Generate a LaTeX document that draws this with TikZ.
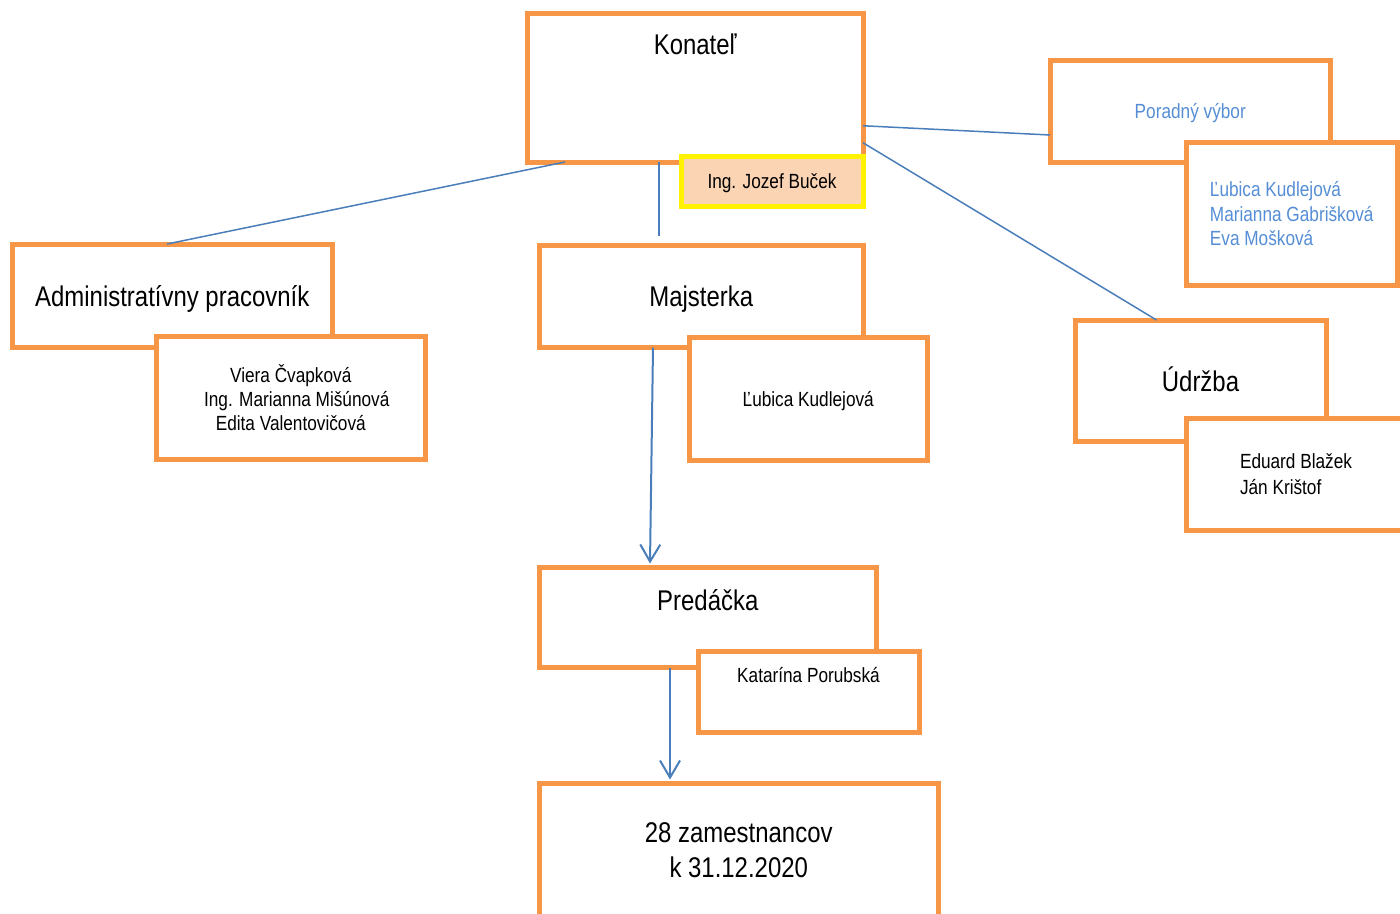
\documentclass[tikz,border=0pt]{standalone}
\usepackage{fontspec}
\setmainfont{Liberation Sans}[FakeStretch=0.84]
\usetikzlibrary{arrows.meta}
\definecolor{boxorange}{HTML}{F79646}
\definecolor{lineblue}{HTML}{4A7EBB}
\definecolor{textblue}{HTML}{558ED5}
\definecolor{namefill}{HTML}{FBD4B4}
\newcommand\unitfont{\fontsize{28.5pt}{35pt}\selectfont}
\newcommand\namefont{\fontsize{20.5pt}{24.3pt}\selectfont}
\tikzset{
    frame/.style={
        draw=boxorange,
        line width=5pt,
        fill=white,
        inner sep=0pt,
        outer sep=0pt,
    },
    unit/.style={frame, font=\unitfont, text height=20.5pt, text depth=0pt},
    person/.style={frame, font=\namefont, text height=14.7pt, text depth=0pt},
    names/.style={frame, font=\namefont, align=center},
    link/.style={draw=lineblue, line width=1.5pt},
    flow/.style={link, line width=2pt, -{Straight Barb[length=17pt, width=20pt, line width=2pt]}},
}

\begin{document}
\begin{tikzpicture}[x=1pt, y=-1pt]
   \useasboundingbox (0,0) rectangle (1400,913);
   \clip (0,0) rectangle (1400,913);
   % top
   \node[frame, minimum width=335.5pt, minimum height=148.5pt] (konatel) at (695.25,87.75) {};
   \node[font=\unitfont, anchor=base] (konatel-t) at ([yshift=-40.5pt]konatel.north) {Konateľ};
   \node[person, draw=yellow, fill=namefill, minimum width=182pt, minimum height=50.5pt] (bucek) at (772,181.25) {Ing. Jozef Buček};
   % advisory board
   \node[person, text=textblue, minimum width=280.5pt, minimum height=102.5pt] (rada) at (1190.25,111.25) {Poradný výbor};
   \node[names, align=left, text=textblue, minimum width=211.5pt, minimum height=142.5pt] (rada-c) at (1291.75,213.75) {Ľubica Kudlejová\\Marianna Gabrišková\\Eva Mošková};
   % second row
   \node[unit, minimum width=319.5pt, minimum height=103.5pt] (admin) at (172.25,295.75) {Administratívny pracovník};
   \node[names, minimum width=268.5pt, minimum height=122.5pt] (admin-c) at (290.75,397.75) {Viera Čvapková\\\hspace*{12pt}Ing. Marianna Mišúnová\\Edita Valentovičová};
   \node[unit, minimum width=324.5pt, minimum height=102.5pt] (majsterka) at (701.25,296.25) {Majsterka};
   \node[person, minimum width=238.5pt, minimum height=122.5pt] (majsterka-c) at (808.25,398.75) {Ľubica Kudlejová};
   \node[unit, minimum width=251pt, minimum height=121.5pt] (udrzba) at (1200.5,380.75) {Údržba};
   \node[names, align=left, minimum width=220pt, minimum height=112pt] (udrzba-c) at (1296,474) {Eduard Blažek\\[1.7pt]Ján Krištof};
   % lower rows
   \node[frame, minimum width=337.5pt, minimum height=100pt] (predacka) at (707.75,617.5) {};
   \node[font=\unitfont, anchor=base] (predacka-t) at ([yshift=-42.5pt]predacka.north) {Predáčka};
   \node[frame, minimum width=221pt, minimum height=81pt] (predacka-c) at (808.5,691.5) {};
   \node[font=\namefont, anchor=base] (predacka-ct) at ([yshift=-31.7pt]predacka-c.north) {Katarína Porubská};
   \node[names, font=\unitfont, minimum width=399.5pt, minimum height=134pt] (spolu) at (738.75,850.5) {28 zamestnancov\\k 31.12.2020};
   % connectors
   \draw[link] ([xshift=37.5pt]konatel.south west) to ([xshift=154.5pt]admin.north west);
   \draw[link] ([xshift=131.5pt]konatel.south west) to ([xshift=120pt, yshift=9pt]majsterka.north west);
   \draw[link] ([yshift=-38pt]konatel.east) to ([yshift=-23.75pt]rada.west);
   \draw[link] ([yshift=-55pt]konatel.east) to ([xshift=81.5pt]udrzba.north west);
   \draw[flow] ([xshift=114pt]majsterka.south west) to ([xshift=111pt, yshift=4pt]predacka.north west);
   \draw[flow] ([xshift=131pt]predacka.south west) to ([xshift=131pt, yshift=4pt]spolu.north west);
\end{tikzpicture}
\end{document}
